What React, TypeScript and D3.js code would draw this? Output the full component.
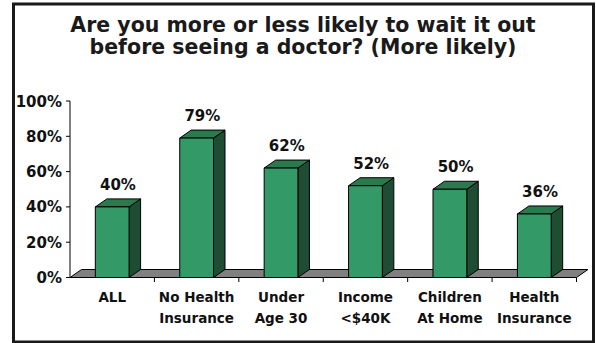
import React from "react";
import * as d3 from "d3";

const titleLines = ["Are you more or less likely to wait it out", "before seeing a doctor? (More likely)"];
const categories = ["ALL", "No Health|Insurance", "Under|Age 30", "Income|<$40K", "Children|At Home", "Health|Insurance"];
const values = [0.40, 0.79, 0.62, 0.52, 0.50, 0.36];
const yTicks = [0, 0.2, 0.4, 0.6, 0.8, 1.0];

const W = 596, H = 343;
const FONT = "'DejaVu Sans', Verdana, sans-serif";
const DX = 11.5, DY = 8;

export default function App() {
  const x = d3.scaleBand<string>().domain(categories).range([70, 576.5]).paddingInner(0).paddingOuter(0);
  const y = d3.scaleLinear().domain([0, 1]).range([277.5, 101]);
  const bw = x.bandwidth() * 0.4;
  const fmt = d3.format(".0%");
  const y0 = y(0);

  return (
    <svg width={W} height={H} style={{ position: "absolute", left: 0, top: 0, background: "#fff" }}>
      <rect x={13.5} y={4} width={580} height={338} fill="#fff" stroke="#1a1a1a" strokeWidth={3} />
      {titleLines.map((t, i) => (
        <text key={i} x={303} y={31.5 + i * 22.5} textAnchor="middle" fontFamily={FONT} fontWeight="bold" fontSize={20.5} fill="#1a1a1a">{t}</text>
      ))}
      {/* floor */}
      <polygon
        points={`70,${y0} 576.5,${y0} ${576.5 + DX},${y0 - DY} ${70 + DX},${y0 - DY}`}
        fill="#808080" stroke="#000" strokeWidth={1} />
      {/* y axis */}
      <line x1={70} x2={70} y1={y(1)} y2={y0} stroke="#000" strokeWidth={1} />
      {yTicks.map((t) => (
        <g key={t}>
          <line x1={66} x2={70} y1={y(t)} y2={y(t)} stroke="#000" />
          <text x={62} y={y(t) + 5.5} textAnchor="end" fontFamily={FONT} fontWeight="bold" fontSize={15} fill="#111">{fmt(t)}</text>
        </g>
      ))}
      {/* x ticks */}
      {categories.map((c, i) => (
        <line key={"t" + i} x1={(x(c) as number) + x.bandwidth()} x2={(x(c) as number) + x.bandwidth()} y1={y0} y2={y0 + 4.5} stroke="#000" />
      ))}
      {/* bars */}
      {categories.map((c, i) => {
        const cx = (x(c) as number) + x.bandwidth() / 2;
        const x0 = cx - bw / 2, x1 = cx + bw / 2;
        const yt = y(values[i]);
        return (
          <g key={c} stroke="#000" strokeWidth={1} strokeLinejoin="round">
            <polygon points={`${x1},${yt} ${x1 + DX},${yt - DY} ${x1 + DX},${y0 - DY} ${x1},${y0}`} fill="#1f4d33" />
            <polygon points={`${x0},${yt} ${x1},${yt} ${x1 + DX},${yt - DY} ${x0 + DX},${yt - DY}`} fill="#2a7a4e" />
            <rect x={x0} y={yt} width={bw} height={y0 - yt} fill="#339966" />
            <text x={cx + DX / 2} y={yt - DY - 9} textAnchor="middle" stroke="none" fontFamily={FONT} fontWeight="bold" fontSize={15} fill="#111">{fmt(values[i])}</text>
          </g>
        );
      })}
      {/* category labels */}
      {categories.map((c) => {
        const cx = (x(c) as number) + x.bandwidth() / 2;
        return c.split("|").map((line, j) => (
          <text key={c + j} x={cx} y={301.5 + j * 21} textAnchor="middle" fontFamily={FONT} fontWeight="bold" fontSize={13.5} fill="#111">{line}</text>
        ));
      })}
    </svg>
  );
}
